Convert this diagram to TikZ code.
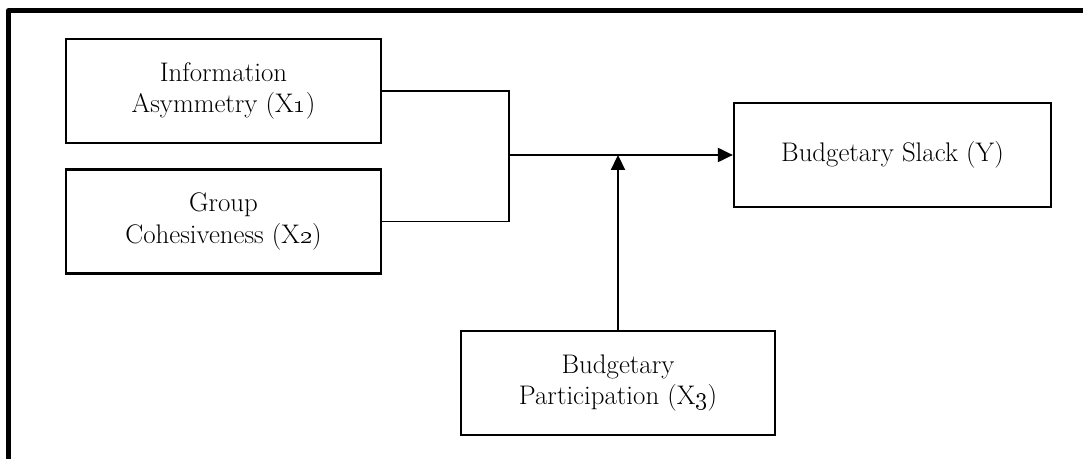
\documentclass[tikz,border=0pt]{standalone}
\usetikzlibrary{arrows.meta}

\tikzset{
  varbox/.style={draw, line width=1.3pt, rectangle, align=center,
    minimum width=315*0.02cm, minimum height=104*0.02cm, inner sep=0pt,
    font=\fontsize{15.3}{17.8}\selectfont},
  link/.style={line width=1pt},
  tip/.style={-{Triangle[length=8.5pt,width=8pt]}}
}

\begin{document}
\begin{tikzpicture}[x=0.02cm, y=-0.02cm]
	\useasboundingbox (0,0) rectangle (1083,459);
	%FRAME
	\draw[line width=2.85pt, line join=round] (8.5,459) -- (8.5,10.5) -- (1083,10.5);
	%BOXES
	\node[varbox] (x1) at (223.5,91) {Information\\Asymmetry (X\oldstylenums{1})};
	\node[varbox] (x2) at (223.5,221.5) {Group\\Cohesiveness (X\oldstylenums{2})};
	\node[varbox, minimum width=317*0.02cm] (y) at (892.5,155) {Budgetary Slack (Y)};
	\node[varbox, minimum width=314*0.02cm] (x3) at (618,383) {Budgetary\\Participation (X\oldstylenums{3})};
	\coordinate (jn) at (509,155);
	%LINKS
	\draw[link] (x1.east) -| (jn);
	\draw[link] (x2.east) -| (jn);
	\draw[link,tip] (jn) -- (y.west);
	\draw[link,tip] (x3.north) -- (x3.north |- jn);
\end{tikzpicture}
\end{document}
